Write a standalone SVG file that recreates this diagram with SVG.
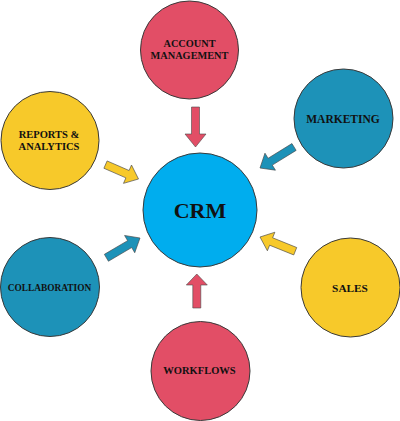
<svg xmlns="http://www.w3.org/2000/svg" width="400" height="421" viewBox="0 0 400 421">
<style>
.node{stroke:#3a3a3a;stroke-width:1}
.pink{fill:#E24E66}
.yellow{fill:#F7C92A}
.teal{fill:#1D92B8}
.crm{fill:#00ADEE}
.lbl{font-family:"Liberation Serif","Times New Roman",serif;font-weight:bold;fill:#111;text-anchor:middle}
.arr{stroke:#4a4a4a;stroke-width:0.6;stroke-linejoin:miter}
</style>
<rect width="400" height="421" fill="#ffffff"/>
<g id="connectors">
<polygon class="arr pink" transform="translate(195.5,147) rotate(90)" points="-40,-4 -13,-4 -13,-10.5 0,0 -13,10.5 -13,4 -40,4"/>
<polygon class="arr pink" transform="translate(196.8,274) rotate(-90)" points="-34,-4 -11,-4 -11,-10.5 0,0 -11,10.5 -11,4 -34,4"/>
<polygon class="arr yellow" transform="translate(138.5,179) rotate(23.6)" points="-36,-4 -12,-4 -12,-10 0,0 -12,10 -12,4 -36,4"/>
<polygon class="arr teal" transform="translate(260,168) rotate(148.3)" points="-40,-4 -12,-4 -12,-10 0,0 -12,10 -12,4 -40,4"/>
<polygon class="arr teal" transform="translate(140,238) rotate(-30.5)" points="-39,-4 -12,-4 -12,-10 0,0 -12,10 -12,4 -39,4"/>
<polygon class="arr yellow" transform="translate(260,237) rotate(202)" points="-38,-4 -12,-4 -12,-10 0,0 -12,10 -12,4 -38,4"/>
</g>
<g id="crm">
<circle class="node crm" cx="200" cy="210" r="57"/>
<text class="lbl" x="200" y="218" font-size="22">CRM</text>
</g>
<g id="account-management">
<circle class="node pink" cx="189.5" cy="50" r="49"/>
<text class="lbl" x="189.5" y="47" font-size="10.3">ACCOUNT</text>
<text class="lbl" x="189.5" y="59" font-size="10.3">MANAGEMENT</text>
</g>
<g id="reports-analytics">
<circle class="node yellow" cx="50" cy="140.5" r="49"/>
<text class="lbl" x="49" y="137.5" font-size="10.5">REPORTS &amp;</text>
<text class="lbl" x="49" y="149.5" font-size="10.5">ANALYTICS</text>
</g>
<g id="marketing">
<circle class="node teal" cx="343.5" cy="118.5" r="49.5"/>
<text class="lbl" x="343" y="123" font-size="11.5">MARKETING</text>
</g>
<g id="collaboration">
<circle class="node teal" cx="50" cy="287" r="49.5"/>
<text class="lbl" x="49.5" y="291" font-size="9.4">COLLABORATION</text>
</g>
<g id="sales">
<circle class="node yellow" cx="350.5" cy="287.5" r="49.5"/>
<text class="lbl" x="350" y="292" font-size="11.3">SALES</text>
</g>
<g id="workflows">
<circle class="node pink" cx="200.5" cy="371" r="49.5"/>
<text class="lbl" x="199.5" y="373.5" font-size="10.5">WORKFLOWS</text>
</g>
</svg>
